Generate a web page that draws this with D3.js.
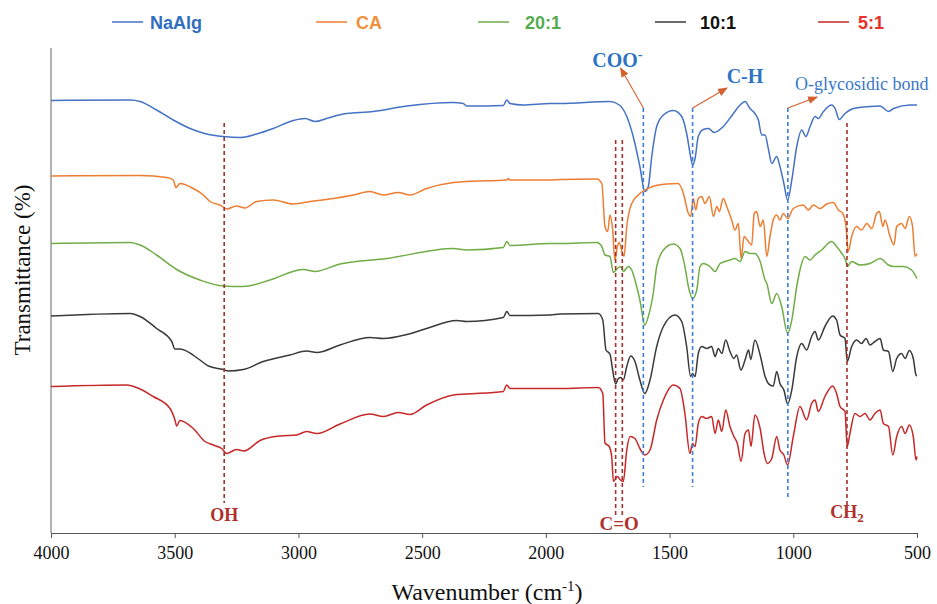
<!DOCTYPE html>
<html>
<head>
<meta charset="utf-8">
<script src="https://cdn.jsdelivr.net/npm/d3@7"></script>
<style>
body { margin: 0; background: #fff; }
svg { display: block; }
</style>
</head>
<body>
<div id="chart"></div>
<script>
// wavenumber ticks (cm-1)
const wavenumberTicks = [4000, 3500, 3000, 2500, 2000, 1500, 1000, 500];
const seriesNames = ['NaAlg', 'CA', '20:1', '10:1', '5:1'];

// [wavenumber, transmittance (offset, a.u.)]
const naalg = [[4000,86.5],[3680,86.6],[3640,86.3],[3573,84.6],[3506,82.6],[3438,80.9],[3371,79.8],[3304,79.3],[3236,79.1],[3169,79.8],[3102,80.9],[3021,82.5],[2973,82.9],[2933,82.3],[2886,82.9],[2819,83.8],[2697,84.3],[2562,85.4],[2374,86.1],[2334,85.9],[2320,85.4],[2172,85.5],[2158,86.6],[2145,85.9],[2091,85.6],[1983,85.9],[1943,85.9],[1741,86.3],[1703,85.6],[1673,83.3],[1647,79.3],[1620,73.3],[1600,68.3],[1586,69.3],[1572,75.3],[1552,81.3],[1525,83.6],[1485,84.5],[1451,83.3],[1431,79.9],[1415,75.3],[1407,73.6],[1397,74.9],[1384,79.3],[1364,80.7],[1343,80.9],[1320,80.1],[1283,81.3],[1242,83.9],[1215,85.6],[1195,86.3],[1175,84.9],[1155,83.9],[1141,82.6],[1128,79.6],[1114,79.6],[1101,76.9],[1087,73.9],[1067,75.3],[1054,73.3],[1038,69.9],[1023,66.6],[1006,70.6],[986,77.3],[966,80.6],[949,79.3],[932,81.3],[912,83.3],[899,82.9],[878,84.3],[845,85.6],[831,84.9],[814,82.7],[791,83.9],[757,84.9],[690,85.3],[649,85.4],[615,84.3],[595,84.9],[528,85.6],[500,85.6]];

const ca = [[4000,71.4],[3640,71.5],[3532,71.1],[3506,70.6],[3495,69.1],[3479,69.9],[3425,68.9],[3384,67.6],[3357,66.3],[3317,65.6],[3290,64.8],[3250,65.4],[3216,65.0],[3169,66.3],[3102,66.6],[3021,65.8],[2953,66.3],[2859,66.9],[2778,67.6],[2711,68.3],[2657,67.6],[2596,68.1],[2549,67.6],[2482,68.9],[2374,70.1],[2320,70.3],[2158,70.6],[2152,70.9],[2145,70.6],[1983,70.6],[1943,70.7],[1794,70.8],[1774,69.9],[1761,61.3],[1750,60.3],[1741,63.6],[1730,60.6],[1721,54.6],[1711,57.3],[1703,58.1],[1694,56.6],[1684,55.3],[1673,61.3],[1653,65.9],[1620,67.9],[1579,69.1],[1512,69.8],[1465,69.9],[1444,67.9],[1424,63.9],[1415,63.3],[1404,66.9],[1394,64.6],[1384,66.9],[1370,67.3],[1357,65.9],[1339,67.3],[1323,63.3],[1309,65.3],[1299,64.3],[1283,66.9],[1269,65.3],[1249,62.6],[1236,60.6],[1222,61.9],[1211,54.9],[1199,59.3],[1186,58.6],[1168,57.6],[1158,63.9],[1148,64.3],[1134,61.3],[1121,62.6],[1107,55.3],[1094,59.3],[1081,62.6],[1067,63.6],[1054,62.6],[1040,63.9],[1023,62.9],[1000,64.9],[960,65.6],[939,64.6],[919,65.6],[892,64.9],[865,65.8],[838,66.1],[818,64.6],[800,63.9],[787,61.3],[778,56.3],[764,59.3],[744,61.3],[724,60.6],[703,61.9],[683,60.9],[663,63.9],[652,64.3],[638,61.3],[629,62.6],[609,59.3],[593,57.6],[582,61.3],[562,61.9],[548,60.9],[531,63.3],[518,61.3],[508,55.3],[500,55.9]];

const ratio20 = [[4000,57.9],[3680,58.1],[3640,57.6],[3573,55.6],[3492,52.7],[3398,50.6],[3304,49.4],[3223,49.3],[3115,50.6],[2980,52.7],[2933,52.3],[2832,53.8],[2643,54.9],[2374,56.9],[2320,56.6],[2172,57.1],[2158,58.3],[2145,57.5],[1983,57.9],[1943,57.9],[1794,58.1],[1774,57.3],[1761,55.6],[1741,55.3],[1727,52.1],[1711,52.9],[1698,53.3],[1687,52.3],[1667,53.3],[1653,52.6],[1640,50.6],[1620,46.6],[1600,41.6],[1586,43.3],[1566,47.9],[1552,53.3],[1525,56.6],[1485,57.8],[1458,56.9],[1438,53.3],[1424,49.3],[1407,46.9],[1390,48.6],[1377,53.3],[1364,53.9],[1337,53.3],[1316,52.3],[1296,53.9],[1276,54.3],[1256,54.6],[1236,54.9],[1215,54.3],[1195,56.3],[1175,55.9],[1155,55.9],[1134,54.3],[1114,50.6],[1107,49.9],[1087,45.9],[1067,47.9],[1047,45.3],[1023,39.9],[1006,42.6],[986,49.3],[973,52.6],[953,55.3],[932,54.6],[912,55.6],[885,56.6],[845,58.3],[825,57.3],[804,55.9],[787,54.3],[782,53.3],[764,54.3],[730,53.6],[690,53.9],[649,54.9],[615,53.6],[595,53.3],[555,53.3],[522,52.6],[500,50.9]];

const ratio10 = [[4000,43.4],[3680,43.9],[3640,43.3],[3573,40.9],[3512,38.3],[3499,36.8],[3479,36.8],[3398,34.6],[3364,33.4],[3304,32.7],[3283,32.4],[3223,32.7],[3142,34.3],[3034,35.6],[2967,36.4],[2926,36.1],[2832,37.6],[2711,39.1],[2657,38.9],[2562,39.7],[2482,40.9],[2360,42.5],[2320,42.3],[2172,43.1],[2158,44.3],[2145,43.5],[1983,43.6],[1943,43.8],[1788,43.9],[1770,42.6],[1757,36.6],[1741,35.8],[1730,32.6],[1718,29.8],[1707,30.9],[1697,31.1],[1687,30.6],[1673,33.3],[1657,35.4],[1640,34.3],[1620,30.6],[1600,27.9],[1579,30.6],[1552,37.3],[1525,41.3],[1478,43.6],[1451,42.3],[1431,37.3],[1415,31.3],[1407,31.9],[1397,31.3],[1384,35.9],[1370,37.3],[1350,36.9],[1330,37.3],[1316,35.3],[1303,36.9],[1289,35.9],[1273,38.6],[1256,36.3],[1240,34.9],[1229,35.6],[1212,32.6],[1195,34.6],[1181,36.6],[1172,34.7],[1155,38.6],[1134,35.6],[1114,31.3],[1094,29.6],[1081,29.4],[1067,32.3],[1054,29.9],[1038,28.6],[1023,25.8],[1006,28.6],[986,35.3],[966,37.9],[946,36.6],[926,39.3],[912,40.3],[899,38.6],[872,41.3],[841,43.4],[825,42.6],[811,39.6],[791,38.9],[782,34.3],[764,37.3],[744,38.6],[724,37.9],[706,38.9],[690,37.6],[670,38.3],[649,38.9],[636,36.6],[615,36.3],[598,32.3],[582,34.9],[562,35.9],[548,34.9],[531,36.5],[515,34.9],[504,31.6],[500,31.4]];

const ratio5 = [[4000,29.3],[3694,29.6],[3654,29.1],[3587,27.3],[3519,24.9],[3499,22.6],[3492,21.4],[3479,22.5],[3425,20.9],[3378,18.3],[3344,17.6],[3310,16.9],[3290,15.9],[3250,16.7],[3220,16.4],[3155,18.5],[3074,19.4],[3007,19.6],[2967,20.3],[2926,19.9],[2832,21.8],[2711,23.8],[2657,23.3],[2596,24.1],[2549,23.7],[2482,25.6],[2374,27.6],[2320,27.8],[2172,28.3],[2158,29.6],[2145,28.9],[1983,28.9],[1943,28.9],[1788,29.1],[1770,27.9],[1761,18.0],[1744,17.3],[1734,15.3],[1727,10.3],[1711,11.3],[1698,10.6],[1687,10.3],[1673,16.6],[1660,19.3],[1640,18.9],[1620,16.9],[1600,15.6],[1579,16.6],[1552,22.6],[1525,26.6],[1485,29.6],[1458,28.9],[1438,23.9],[1418,15.9],[1407,17.9],[1397,17.3],[1384,21.9],[1370,23.3],[1350,22.9],[1330,23.3],[1316,19.9],[1303,22.6],[1289,20.3],[1273,24.6],[1256,21.3],[1240,19.3],[1226,17.9],[1211,14.3],[1195,19.9],[1181,20.6],[1171,17.3],[1155,23.6],[1134,20.9],[1118,15.9],[1105,13.9],[1087,14.9],[1067,19.3],[1054,16.6],[1038,15.6],[1023,13.6],[1000,19.3],[973,25.3],[946,22.6],[926,25.9],[912,26.6],[899,24.3],[872,27.3],[841,29.4],[825,27.9],[811,25.3],[791,24.3],[782,17.3],[771,19.9],[751,23.9],[730,23.3],[710,23.9],[690,22.6],[670,23.9],[649,24.6],[636,21.9],[615,21.3],[598,15.6],[582,19.3],[562,21.3],[548,19.9],[531,21.6],[515,19.3],[504,14.6],[500,15.3]];

const seriesValues = [naalg, ca, ratio20, ratio10, ratio5];

// band marker lines: wavenumber, top and bottom (same units as transmittance)
const bandWavenumbers = [3300, 1718, 1691, 1606, 1407, 1022, 783];
const bandTops = [82, 78.6, 78.6, 85, 85, 85, 82];
const bandBottoms = [6, 3, 3, 9.2, 9.2, 6.6, 5.6];
const bandGroups = ['red', 'red', 'red', 'blue', 'blue', 'blue', 'red'];

// arrows to the blue labels: from the band top to a point [wavenumber, value]
const arrowFrom = [1606, 1407, 1022];
const arrowTo = [[1698, 93], [1268, 89], [904, 87.2]];

(function(){
const W = 937, H = 604;
const colors = ['#4472c4', '#ed7d31', '#70ad47', '#3a3a3a', '#c62828'];
const legendColors = ['#2f6fbd', '#f0903a', '#55ac4e', '#111111', '#e8312a'];
const serif = '"Liberation Serif","Times New Roman",serif';

const svg = d3.select('#chart').append('svg').attr('width', W).attr('height', H);

const x = d3.scaleLinear().domain([4000, 500]).range([51, 917]);
const y = d3.scaleLinear().domain([0, 100]).range([533, 33]);

// x axis
const xAxis = svg.append('g').attr('transform', 'translate(0,533)')
.call(d3.axisBottom(x).tickValues(wavenumberTicks).tickFormat(d3.format('d')).tickSize(5).tickSizeOuter(0).tickPadding(8));
xAxis.select('.domain').attr('stroke', '#555');
xAxis.selectAll('.tick line').attr('stroke', '#555');
xAxis.selectAll('.tick text').attr('font-family', serif).attr('font-size', 18).attr('fill', '#111');

// left axis line
svg.append('line').attr('x1', 51).attr('x2', 51).attr('y1', y(97)).attr('y2', 533)
.attr('stroke', '#999').attr('stroke-width', 1.5);

// spectra
const line = d3.line().x(d => x(d[0])).y(d => y(d[1])).curve(d3.curveMonotoneX);
svg.append('g').selectAll('path').data(seriesValues).enter().append('path')
.attr('d', line)
.attr('fill', 'none')
.attr('stroke', (d, i) => colors[i])
.attr('stroke-width', 1.5)
.attr('stroke-linejoin', 'round');

// band lines
svg.append('g').selectAll('line').data(bandWavenumbers).enter().append('line')
.attr('x1', d => x(d)).attr('x2', d => x(d))
.attr('y1', (d, i) => y(bandTops[i])).attr('y2', (d, i) => y(bandBottoms[i]))
.attr('stroke', (d, i) => bandGroups[i] === 'red' ? '#a3302c' : '#3d7fd6')
.attr('stroke-width', 1.6)
.attr('stroke-dasharray', '4,3');

// arrows
const defs = svg.append('defs');
defs.append('marker').attr('id', 'ah').attr('viewBox', '0 0 10 10').attr('refX', 9).attr('refY', 5)
.attr('markerWidth', 9).attr('markerHeight', 9).attr('orient', 'auto')
.append('path').attr('d', 'M0,1 L10,5 L0,9 z').attr('fill', '#d4602e');
svg.append('g').selectAll('line').data(arrowFrom).enter().append('line')
.attr('x1', d => x(d)).attr('y1', y(85))
.attr('x2', (d, i) => x(arrowTo[i][0])).attr('y2', (d, i) => y(arrowTo[i][1]))
.attr('stroke', '#d4602e').attr('stroke-width', 1.1)
.attr('marker-end', 'url(#ah)');

// blue labels
const coo = svg.append('text').attr('x', x(1606) - 26).attr('y', 67).attr('text-anchor', 'middle')
.attr('font-family', serif).attr('font-weight', 'bold').attr('font-size', 20).attr('fill', '#2e73c4');
coo.append('tspan').text('COO');
coo.append('tspan').attr('dy', -8).attr('font-size', 14).text('-');
svg.append('text').attr('x', x(1268) + 18).attr('y', 83).attr('text-anchor', 'middle')
.attr('font-family', serif).attr('font-weight', 'bold').attr('font-size', 20).attr('fill', '#2e73c4').text('C-H');
svg.append('text').attr('x', x(904) - 22).attr('y', 90)
.attr('font-family', serif).attr('font-size', 18).attr('fill', '#3a78c8').text('O-glycosidic bond');

// red labels
const redLabel = (txt, wn, yy) => svg.append('text').attr('x', x(wn)).attr('y', yy).attr('text-anchor', 'middle')
.attr('font-family', serif).attr('font-weight', 'bold').attr('font-size', 18).attr('fill', '#b0302b').text(txt);
redLabel('OH', 3300, 521);
redLabel('C=O', 1704, 530).attr('font-size', 19);
const ch2 = redLabel('CH', 783, 518);
ch2.append('tspan').attr('dy', 4).attr('font-size', 13).text('2');

// legend
const legendLineX = [112, 316, 478, 655, 818];
const lg = svg.append('g').selectAll('g').data(seriesNames).enter().append('g')
.attr('transform', (d, i) => `translate(${legendLineX[i]},22)`);
lg.append('line').attr('x1', 0).attr('x2', 31).attr('y1', 0).attr('y2', 0)
.attr('stroke', (d, i) => colors[i]).attr('stroke-width', 1.5);
lg.append('text').attr('x', (d, i) => [38, 40, 47, 45, 40][i]).attr('y', 6.5)
.attr('font-family', '"Liberation Sans", Arial, sans-serif').attr('font-weight', 'bold').attr('font-size', 18)
.attr('fill', (d, i) => legendColors[i]).text(d => d);

// axis titles
const xt = svg.append('text').attr('x', 487).attr('y', 600).attr('text-anchor', 'middle')
.attr('font-family', serif).attr('font-size', 24).attr('fill', '#111');
xt.append('tspan').text('Wavenumber (cm');
xt.append('tspan').attr('dy', -9).attr('font-size', 15).text('-1');
xt.append('tspan').attr('dy', 9).text(')');

svg.append('text').attr('transform', 'translate(30,270) rotate(-90)').attr('text-anchor', 'middle')
.attr('font-family', serif).attr('font-size', 23).attr('fill', '#111').text('Transmittance (%)');
})();
</script>
</body>
</html>
